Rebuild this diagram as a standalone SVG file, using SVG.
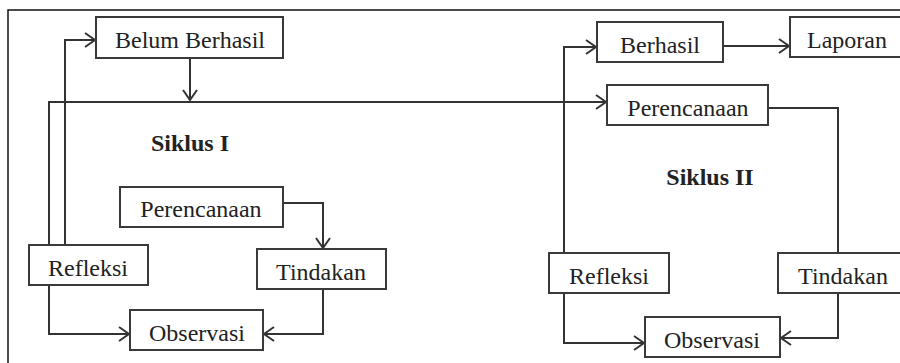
<svg xmlns="http://www.w3.org/2000/svg" width="900" height="363" viewBox="0 0 900 363">
<defs>
<style>
.box{fill:#fff;stroke:#3a3a3a;stroke-width:2}
.lbl{font-family:"Liberation Serif","Times New Roman",serif;font-size:24px;fill:#222;text-anchor:middle}
.title{font-family:"Liberation Serif","Times New Roman",serif;font-size:24px;font-weight:bold;fill:#222;text-anchor:middle}
.con{fill:none;stroke:#333;stroke-width:2}
</style>
<marker id="arr" markerUnits="userSpaceOnUse" markerWidth="14" markerHeight="16" refX="11" refY="8" orient="auto">
<path d="M1,1 L11,8 L1,15" fill="none" stroke="#333" stroke-width="2"/>
</marker>
</defs>
<rect width="900" height="363" fill="#fff"/>
<path d="M8,363 V10 H900" fill="none" stroke="#111" stroke-width="1.5"/>
<g id="connectors">
<path class="con" d="M190,58 V100" marker-end="url(#arr)"/>
<path class="con" d="M49,245 V102 H606" marker-end="url(#arr)"/>
<path class="con" d="M65,245 V40 H95" marker-end="url(#arr)"/>
<path class="con" d="M49,285 V334 H129" marker-end="url(#arr)"/>
<path class="con" d="M283,203 H323 V248" marker-end="url(#arr)"/>
<path class="con" d="M323,289 V334 H264" marker-end="url(#arr)"/>
<path class="con" d="M564,253 V47 H596" marker-end="url(#arr)"/>
<path class="con" d="M723,46 H789" marker-end="url(#arr)"/>
<path class="con" d="M768,108 H838 V253"/>
<path class="con" d="M838,293 V338 H781" marker-end="url(#arr)"/>
<path class="con" d="M564,293 V343 H644" marker-end="url(#arr)"/>
</g>
<g id="belum-berhasil"><rect class="box" x="96" y="17" width="187" height="41"/><text class="lbl" x="190" y="48">Belum Berhasil</text></g>
<g id="siklus-1"><text class="title" x="190" y="151">Siklus I</text></g>
<g id="perencanaan-1"><rect class="box" x="120" y="187" width="163" height="40"/><text class="lbl" x="201" y="217">Perencanaan</text></g>
<g id="refleksi-1"><rect class="box" x="29" y="245" width="119" height="40"/><text class="lbl" x="88" y="276">Refleksi</text></g>
<g id="tindakan-1"><rect class="box" x="257" y="249" width="129" height="40"/><text class="lbl" x="321" y="280">Tindakan</text></g>
<g id="observasi-1"><rect class="box" x="130" y="310" width="133" height="40"/><text class="lbl" x="197" y="341">Observasi</text></g>
<g id="berhasil"><rect class="box" x="597" y="22" width="126" height="40"/><text class="lbl" x="660" y="53">Berhasil</text></g>
<g id="laporan"><rect class="box" x="790" y="17" width="120" height="40"/><text class="lbl" x="847" y="48">Laporan</text></g>
<g id="perencanaan-2"><rect class="box" x="607" y="85" width="161" height="40"/><text class="lbl" x="688" y="116">Perencanaan</text></g>
<g id="siklus-2"><text class="title" x="710" y="185">Siklus II</text></g>
<g id="refleksi-2"><rect class="box" x="549" y="253" width="120" height="40"/><text class="lbl" x="609" y="284">Refleksi</text></g>
<g id="tindakan-2"><rect class="box" x="778" y="253" width="130" height="40"/><text class="lbl" x="843" y="284">Tindakan</text></g>
<g id="observasi-2"><rect class="box" x="645" y="317" width="135" height="40"/><text class="lbl" x="712" y="348">Observasi</text></g>
</svg>
